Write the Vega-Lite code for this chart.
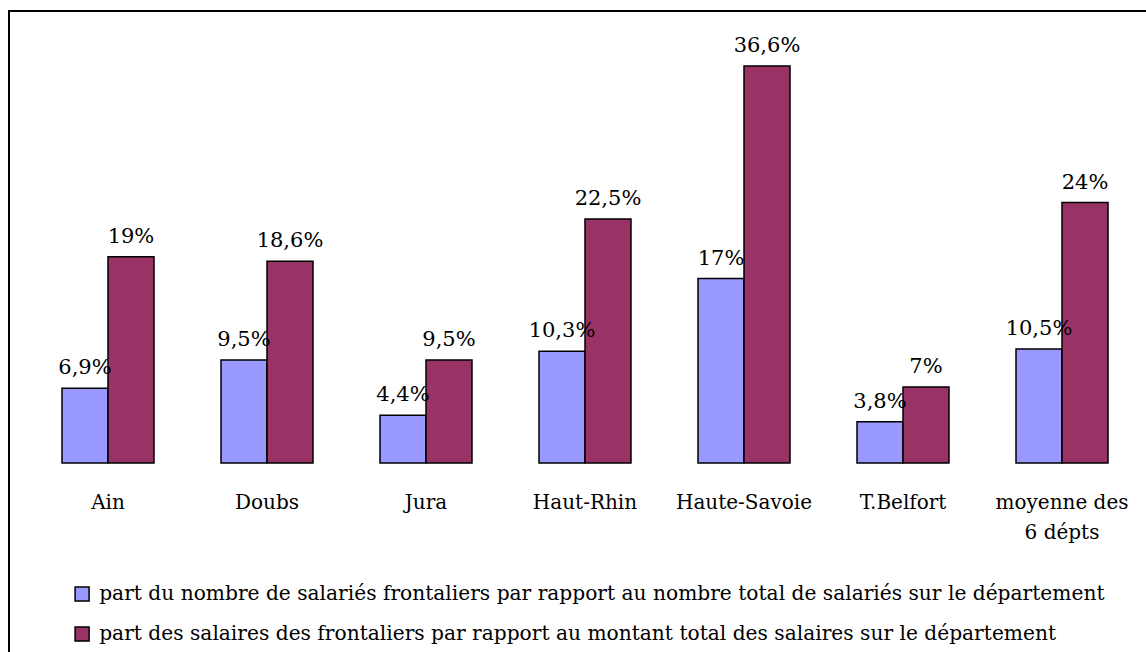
{
  "$schema": "https://vega.github.io/schema/vega-lite/v6.json",
  "width": 1140,
  "height": 643,
  "autosize": {"type": "none"},
  "padding": {"left": 9, "top": 11, "right": 0, "bottom": 0},
  "background": "white",
  "config": {
    "font": "DejaVu Serif",
    "view": {"stroke": "black", "strokeWidth": 2, "fill": null},
    "locale": {"number": {"decimal": ",", "thousands": " ", "grouping": [3], "currency": ["", " €"]}}
  },
  "data": {
    "values": [
      {"dept": "Ain", "serie": "part du nombre de salariés frontaliers par rapport au nombre total de salariés sur le département", "value": 0.069},
      {"dept": "Ain", "serie": "part des salaires des frontaliers par rapport au montant total des salaires sur le département", "value": 0.19},
      {"dept": "Doubs", "serie": "part du nombre de salariés frontaliers par rapport au nombre total de salariés sur le département", "value": 0.095},
      {"dept": "Doubs", "serie": "part des salaires des frontaliers par rapport au montant total des salaires sur le département", "value": 0.186},
      {"dept": "Jura", "serie": "part du nombre de salariés frontaliers par rapport au nombre total de salariés sur le département", "value": 0.044},
      {"dept": "Jura", "serie": "part des salaires des frontaliers par rapport au montant total des salaires sur le département", "value": 0.095},
      {"dept": "Haut-Rhin", "serie": "part du nombre de salariés frontaliers par rapport au nombre total de salariés sur le département", "value": 0.103},
      {"dept": "Haut-Rhin", "serie": "part des salaires des frontaliers par rapport au montant total des salaires sur le département", "value": 0.225},
      {"dept": "Haute-Savoie", "serie": "part du nombre de salariés frontaliers par rapport au nombre total de salariés sur le département", "value": 0.17},
      {"dept": "Haute-Savoie", "serie": "part des salaires des frontaliers par rapport au montant total des salaires sur le département", "value": 0.366},
      {"dept": "T.Belfort", "serie": "part du nombre de salariés frontaliers par rapport au nombre total de salariés sur le département", "value": 0.038},
      {"dept": "T.Belfort", "serie": "part des salaires des frontaliers par rapport au montant total des salaires sur le département", "value": 0.07},
      {"dept": "moyenne des 6 dépts", "serie": "part du nombre de salariés frontaliers par rapport au nombre total de salariés sur le département", "value": 0.105},
      {"dept": "moyenne des 6 dépts", "serie": "part des salaires des frontaliers par rapport au montant total des salaires sur le département", "value": 0.24}
    ]
  },
  "encoding": {
    "x": {
      "field": "dept",
      "type": "nominal",
      "sort": null,
      "scale": {"paddingInner": 0.4214, "paddingOuter": 0.2956, "align": 0.5638},
      "axis": {
        "title": null,
        "orient": "bottom",
        "offset": -191,
        "domain": false,
        "ticks": false,
        "labelAngle": 0,
        "labelFontSize": 20,
        "labelColor": "black",
        "labelPadding": 29,
        "labelLineHeight": 30,
        "labelExpr": "datum.value == 'moyenne des 6 dépts' ? ['moyenne des', '6 dépts'] : datum.value"
      }
    },
    "xOffset": {
      "field": "serie",
      "type": "nominal",
      "sort": null,
      "scale": {"paddingInner": 0, "paddingOuter": 0}
    }
  },
  "layer": [
    {
      "mark": {"type": "bar", "stroke": "black", "strokeWidth": 1.5},
      "encoding": {
        "y": {
          "field": "value",
          "type": "quantitative",
          "scale": {"domain": [-0.176, 0.4166], "nice": false, "zero": false},
          "axis": null
        },
        "y2": {"datum": 0},
        "color": {
          "field": "serie",
          "type": "nominal",
          "sort": null,
          "scale": {"range": ["#9999FF", "#993366"]},
          "legend": {
            "title": null,
            "orient": "none",
            "legendX": 63,
            "legendY": 573,
            "direction": "vertical",
            "symbolType": "square",
            "symbolSize": 196,
            "symbolStrokeColor": "black",
            "symbolStrokeWidth": 1.5,
            "symbolOpacity": 1,
            "labelFontSize": 20.2,
            "labelColor": "black",
            "labelLimit": 2000,
            "labelOffset": 7,
            "rowPadding": 19,
            "padding": 0
          }
        }
      }
    },
    {
      "mark": {"type": "text", "fontSize": 21, "color": "black", "baseline": "alphabetic", "dy": -14},
      "encoding": {
        "y": {"field": "value", "type": "quantitative"},
        "text": {"field": "value", "type": "quantitative", "format": ".1~%"}
      }
    }
  ]
}
